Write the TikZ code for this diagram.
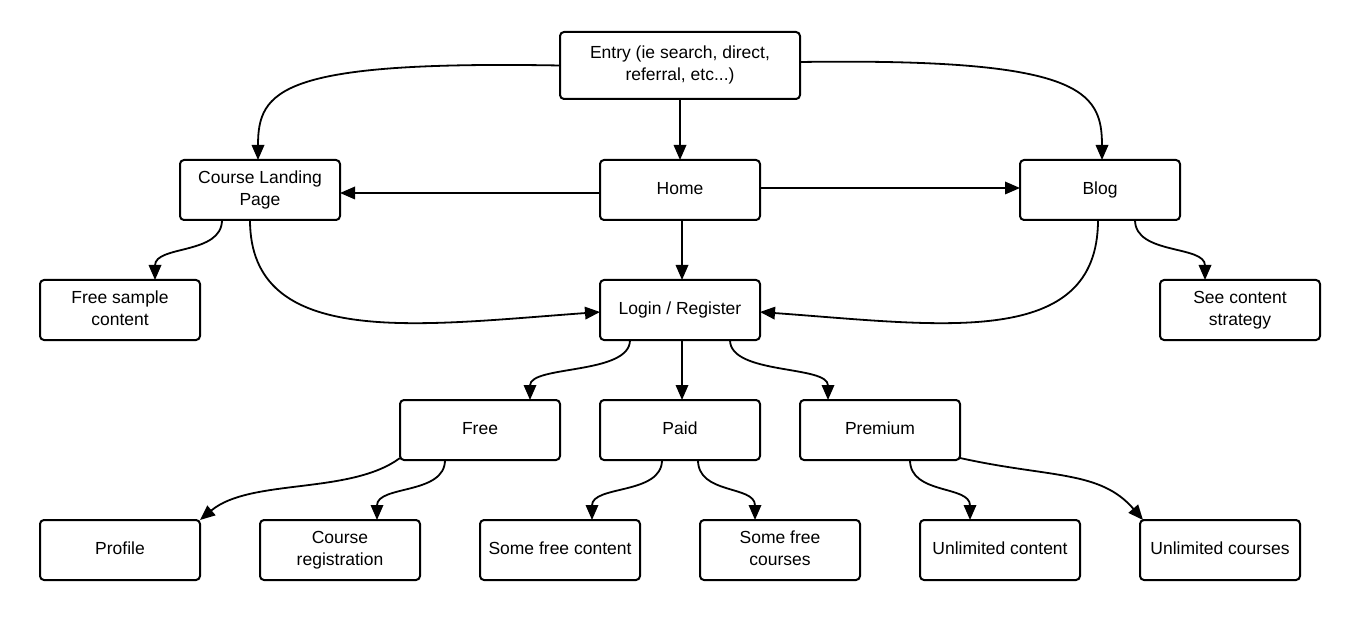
\documentclass[tikz,border=0pt]{standalone}
\usepackage{fontspec}
\setmainfont{Liberation Sans}
\usetikzlibrary{arrows.meta}
\newcommand{\bx}[2]{\raisebox{#1pt}{\begin{tabular}{@{}c@{}}#2\end{tabular}}}
\begin{document}
\begin{tikzpicture}[x=1pt,y=-1pt,
  box/.style={draw=black, line width=2pt, rounded corners=4pt, fill=white,
    minimum width=160pt, minimum height=60pt, inner sep=0pt, outer sep=0pt,
    font=\fontsize{17.5}{22}\selectfont},
  conn/.style={line width=1.8pt, -{Triangle[length=15pt,width=12.5pt]}}]
\useasboundingbox (0,0) rectangle (1360,620);
\fill[white] (0,0) rectangle (1360,620);
% nodes
\node[box, minimum width=240pt, minimum height=67pt] (entry) at (680,65.5) {\bx{1}{Entry (ie search, direct,\\referral, etc...)}};
\node[box] (clp)  at (260,190)  {\bx{5}{Course Landing\\Page}};
\node[box] (home) at (680,190)  {\bx{2.5}{Home}};
\node[box] (blog) at (1100,190) {\bx{2.5}{Blog}};
\node[box] (fsc)  at (120,310)  {\bx{5}{Free sample\\content}};
\node[box] (login) at (680,310) {\bx{2.5}{Login / Register}};
\node[box] (scs)  at (1240,310) {\bx{5}{See content\\strategy}};
\node[box] (free) at (480,430)  {\bx{2.5}{Free}};
\node[box] (paid) at (680,430)  {\bx{2.5}{Paid}};
\node[box] (prem) at (880,430)  {\bx{2.5}{Premium}};
\node[box] (prof) at (120,550)  {\bx{2.5}{Profile}};
\node[box] (creg) at (340,550)  {\bx{5}{Course\\registration}};
\node[box] (sfc)  at (560,550)  {\bx{2.5}{Some free content}};
\node[box] (sfcs) at (780,550)  {\bx{5}{Some free\\courses}};
\node[box] (ucont) at (1000,550) {\bx{2.5}{Unlimited content}};
\node[box] (ucour) at (1220,550) {\bx{2.5}{Unlimited courses}};
% connectors
\draw[conn] (entry.west) .. controls +(-280,-5) and +(0,-70) .. ([xshift=-2pt]clp.north);
\draw[conn] ([yshift=3.5pt]entry.east) .. controls +(280,-4) and +(0,-70) .. ([xshift=2pt]blog.north);
\draw[conn] (entry.south) -- (home.north);
\draw[conn] ([yshift=-3pt]home.west) -- ([yshift=-3pt]clp.east);
\draw[conn] ([yshift=2pt]home.east) -- ([yshift=2pt]blog.west);
\draw[conn] ([xshift=2pt]home.south) -- ([xshift=2pt]login.north);
\draw[conn] ([xshift=-38pt]clp.south) .. controls +(0,35) and +(0,-35) .. ([xshift=35pt]fsc.north);
\draw[conn] ([xshift=-10pt]clp.south) .. controls +(0,130) and +(-180,13) .. ([yshift=-2pt]login.west);
\draw[conn] ([xshift=-2pt]blog.south) .. controls +(0,130) and +(180,13) .. ([yshift=-2pt]login.east);
\draw[conn] ([xshift=35pt]blog.south) .. controls +(0,35) and +(0,-35) .. ([xshift=-35pt]scs.north);
\draw[conn] ([xshift=-50pt]login.south) .. controls +(0,35) and +(0,-35) .. ([xshift=50pt]free.north);
\draw[conn] ([xshift=2pt]login.south) -- ([xshift=2pt]paid.north);
\draw[conn] ([xshift=50pt]login.south) .. controls +(0,35) and +(0,-35) .. ([xshift=-52pt]prem.north);
\draw[conn] ([yshift=2pt]free.south west) .. controls +(-50,37) and +(50,-42) .. (prof.north east);
\draw[conn] ([xshift=-35pt]free.south) .. controls +(0,35) and +(0,-35) .. ([xshift=37pt]creg.north);
\draw[conn] ([xshift=-18pt]paid.south) .. controls +(0,35) and +(0,-35) .. ([xshift=32pt]sfc.north);
\draw[conn] ([xshift=18pt]paid.south) .. controls +(0,35) and +(0,-35) .. ([xshift=-25pt]sfcs.north);
\draw[conn] ([xshift=30pt]prem.south) .. controls +(0,35) and +(0,-35) .. ([xshift=-30pt]ucont.north);
\draw[conn] ([yshift=2pt]prem.south east) .. controls +(90,20) and +(-43,-50) .. ([xshift=-77pt]ucour.north);
\end{tikzpicture}
\end{document}
